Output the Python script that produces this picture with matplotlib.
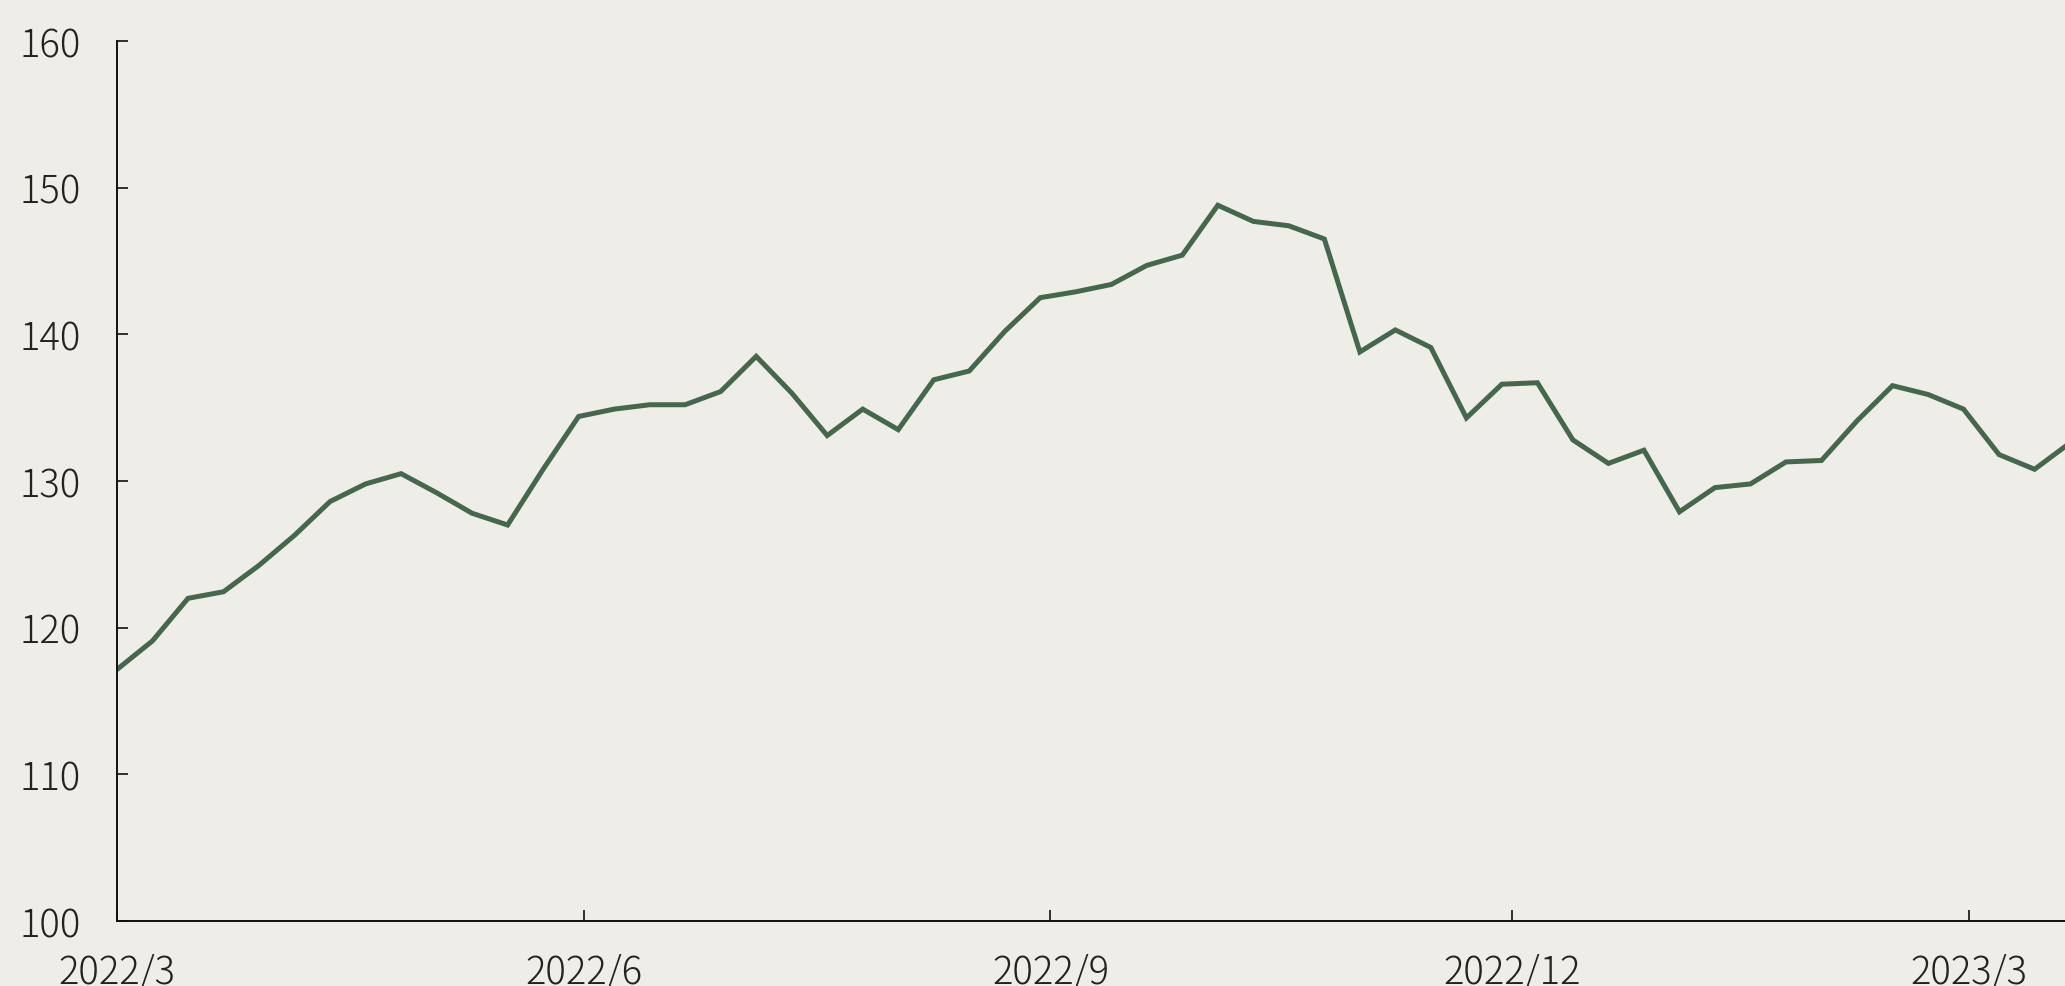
import matplotlib
matplotlib.use("Agg")
import pandas as pd
from matplotlib import pyplot as plt

# weekly values
values = [
    117.15, 119.1, 122.0, 122.45, 124.25, 126.3, 128.6, 129.8, 130.5, 129.2,
    127.8, 127.0, 130.8, 134.4, 134.9, 135.2, 135.2, 136.1, 138.5, 136.0,
    133.1, 134.9, 133.5, 136.9, 137.5, 140.2, 142.5, 142.9, 143.4, 144.7,
    145.4, 148.8, 147.7, 147.4, 146.5, 138.8, 140.3, 139.1, 134.3, 136.6,
    136.7, 132.8, 131.2, 132.1, 127.9, 129.55, 129.8, 131.3, 131.4, 134.1,
    136.5, 135.9, 134.9, 131.8, 130.8, 132.6,
]
dates = pd.date_range("2022-03-01", periods=len(values), freq="7D")

tick_dates = pd.to_datetime(["2022-03-01", "2022-06-01", "2022-09-01", "2022-12-01", "2023-03-01"])
tick_labels = ["2022/3", "2022/6", "2022/9", "2022/12", "2023/3"]
y_ticks = [100, 110, 120, 130, 140, 150, 160]

bg = "#efede8"
line_color = "#44684c"

plt.rcParams["font.family"] = ["Noto Sans CJK JP", "DejaVu Sans"]

fig = plt.figure(figsize=(20.65, 9.87), dpi=100, facecolor=bg)
ax = fig.add_axes([117 / 2065, 1 - 922 / 987, 1 - 117 / 2065, (922 - 42) / 987])
ax.set_facecolor(bg)

ax.plot(dates, values, color=line_color, linewidth=3.6, solid_joinstyle="miter")

ax.set_xlim(pd.Timestamp("2022-03-01"), pd.Timestamp("2023-03-20"))
ax.set_ylim(100, 160)

ax.set_xticks(tick_dates)
ax.set_xticklabels(tick_labels)
ax.set_yticks(y_ticks)

for side in ["top", "right"]:
    ax.spines[side].set_visible(False)
for side in ["left", "bottom"]:
    ax.spines[side].set_linewidth(1.4)
    ax.spines[side].set_color("#111111")

ax.tick_params(axis="both", direction="in", length=8, width=1.2, color="#111111",
               labelsize=27.5, labelcolor="#222222")
ax.tick_params(axis="x", pad=23)
ax.tick_params(axis="y", pad=26)
for lbl in ax.get_xticklabels() + ax.get_yticklabels():
    lbl.set_fontweight("light")

fig.savefig("out.png", dpi=100, facecolor=bg)
